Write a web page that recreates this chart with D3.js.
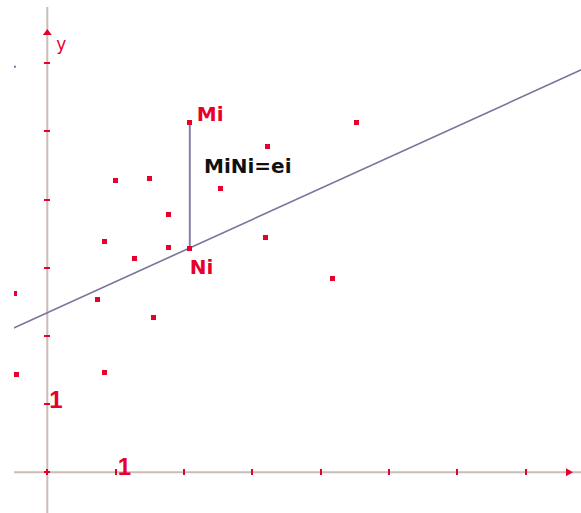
<!DOCTYPE html>
<html>
<head>
<meta charset="utf-8">
<script src="https://cdn.jsdelivr.net/npm/d3@7"></script>
<style>
  html, body { margin: 0; padding: 0; background: #ffffff; }
  svg { display: block; }
</style>
</head>
<body>
<div id="chart"></div>
<script>
// ---- data ----
const pointsX = [1.00, 1.50, 1.77, 0.84, 1.77, 1.27, -0.48, 0.74, 1.56, -0.45, 0.84, 3.22, 2.54, 3.20, 4.52, 4.18];
const pointsY = [4.28, 4.31, 3.78, 3.38, 3.30, 3.13, 2.62, 2.54, 2.27, 1.43, 1.46, 4.78, 4.17, 3.44, 5.13, 2.85];
const miPoint = [2.085, 5.13];
const niPoint = [2.085, 3.29];
const lineIntercept = 2.341;
const lineSlope = 0.456;
const lineXRange = [-0.5, 7.9];
const xTicks = [0, 1, 2, 3, 4, 5, 6, 7];
const yTicks = [0, 1, 2, 3, 4, 5, 6];
const xTickLabels = [{v: 1, t: "1"}];
const yTickLabels = [{v: 1, t: "1"}];
const strayDots = [[-0.475, 5.95]];
const labelMi = "Mi", labelNi = "Ni", labelEq = "MiNi=ei", labelY = "y";

// ---- layout ----
const W = 581, H = 513;
const svg = d3.select("#chart").append("svg").attr("width", W).attr("height", H);
const x = d3.scaleLinear().domain([0, 7]).range([47.3, 525.7]);
const y = d3.scaleLinear().domain([0, 6]).range([472.3, 63.3]);

const red = "#e6002b";
const axisCol = "#c9bdb6";
const lineCol = "#7b7399";

svg.append("defs").append("clipPath").attr("id", "clip")
  .append("rect").attr("x", 14).attr("y", 7).attr("width", W - 14).attr("height", H - 7);

const g = svg.append("g").attr("clip-path", "url(#clip)");

// axes lines
g.append("line").attr("x1", 14).attr("x2", W).attr("y1", y(0)).attr("y2", y(0))
  .attr("stroke", axisCol).attr("stroke-width", 2);
g.append("line").attr("x1", x(0)).attr("x2", x(0)).attr("y1", 7).attr("y2", H)
  .attr("stroke", axisCol).attr("stroke-width", 2);

// ticks
g.selectAll(".xt").data(xTicks).enter().append("rect")
  .attr("x", d => x(d) - 1).attr("y", y(0) - 3).attr("width", 2).attr("height", 6)
  .attr("fill", red).attr("shape-rendering", "crispEdges");
g.selectAll(".yt").data(yTicks).enter().append("rect")
  .attr("x", x(0) - 3).attr("y", d => y(d) - 1).attr("width", 6).attr("height", 2)
  .attr("fill", red).attr("shape-rendering", "crispEdges");

// arrowheads
const yArrowTip = 29, xArrowTip = 573;
g.append("path")
  .attr("d", `M${x(0)},${yArrowTip} L${x(0) - 4.5},${yArrowTip + 6} L${x(0) + 4.5},${yArrowTip + 6} Z`)
  .attr("fill", red);
g.append("path")
  .attr("d", `M${xArrowTip},${y(0)} L${xArrowTip - 7},${y(0) - 4} L${xArrowTip - 7},${y(0) + 4} Z`)
  .attr("fill", red);

// regression line
g.append("line")
  .attr("x1", x(lineXRange[0])).attr("y1", y(lineIntercept + lineSlope * lineXRange[0]))
  .attr("x2", x(lineXRange[1])).attr("y2", y(lineIntercept + lineSlope * lineXRange[1]))
  .attr("stroke", lineCol).attr("stroke-width", 1.6);

// residual segment MiNi
g.append("line")
  .attr("x1", x(miPoint[0])).attr("y1", y(miPoint[1]))
  .attr("x2", x(niPoint[0])).attr("y2", y(niPoint[1]))
  .attr("stroke", "#8680a8").attr("stroke-width", 2);

// points
const pts = pointsX.map((v, i) => [v, pointsY[i]]).concat([miPoint, niPoint]);
g.selectAll(".pt").data(pts).enter().append("rect")
  .attr("x", d => Math.round(x(d[0]) - 2.5)).attr("y", d => Math.round(y(d[1]) - 2.5))
  .attr("width", 5).attr("height", 5).attr("fill", red).attr("shape-rendering", "crispEdges");

// stray dot
g.selectAll(".stray").data(strayDots).enter().append("rect")
  .attr("x", d => x(d[0]) - 1).attr("y", d => y(d[1]) - 1).attr("width", 2).attr("height", 2)
  .attr("fill", "#6a6aa0");

// tick labels
svg.selectAll(".xl").data(xTickLabels).enter().append("text")
  .attr("x", d => x(d.v) + 2).attr("y", y(0) + 3)
  .attr("font-family", "Liberation Sans, Arial, sans-serif").attr("font-weight", "bold")
  .attr("font-size", 24).attr("fill", red).text(d => d.t);
svg.selectAll(".yl").data(yTickLabels).enter().append("text")
  .attr("x", x(0) + 2).attr("y", d => y(d.v) + 4)
  .attr("font-family", "Liberation Sans, Arial, sans-serif").attr("font-weight", "bold")
  .attr("font-size", 24).attr("fill", red).text(d => d.t);

// axis name
svg.append("text").attr("x", x(0) + 9).attr("y", 50)
  .attr("font-family", "DejaVu Sans, sans-serif").attr("font-size", 17)
  .attr("fill", red).text(labelY);

// labels
svg.append("text").attr("x", x(miPoint[0]) + 7).attr("y", y(miPoint[1]) - 2)
  .attr("font-family", "DejaVu Sans, sans-serif").attr("font-weight", "bold")
  .attr("font-size", 20).attr("fill", red).text(labelMi);
svg.append("text").attr("x", x(niPoint[0])).attr("y", y(niPoint[1]) + 26)
  .attr("font-family", "DejaVu Sans, sans-serif").attr("font-weight", "bold")
  .attr("font-size", 20).attr("fill", red).text(labelNi);
svg.append("text").attr("x", 204).attr("y", 173)
  .attr("font-family", "DejaVu Sans, sans-serif").attr("font-weight", "bold")
  .attr("font-size", 20).attr("fill", "#111111").text(labelEq);
</script>
</body>
</html>
